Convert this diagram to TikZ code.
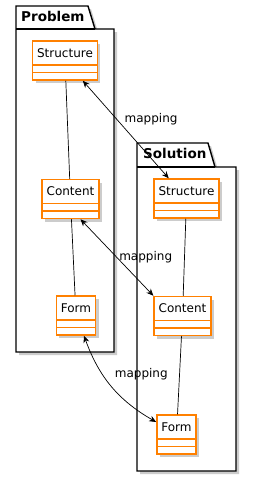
\documentclass[tikz,border=0pt]{standalone}
\usepackage{fontspec}
\setmainfont{DejaVu Sans}
\usetikzlibrary{arrows.meta,shadows}
\definecolor{umlorange}{HTML}{FF8000}
\definecolor{shade}{HTML}{808080}

% class name with room for two empty compartments below it
\newcommand{\clsname}[1]{\rule[-23pt]{0pt}{39pt}#1}

\tikzset{
  cls/.style={rectangle, draw=umlorange, line width=1.5pt, fill=white,
    inner xsep=4.5pt, inner ysep=0pt, font=\fontsize{12}{14}\selectfont,
    drop shadow={shadow xshift=3pt, shadow yshift=-3pt, opacity=0.4, fill=shade},
    path picture={
      \draw[umlorange, line width=1.5pt]
        ([yshift=-24pt]path picture bounding box.north west) -- ([yshift=-24pt]path picture bounding box.north east)
        ([yshift=-31.5pt]path picture bounding box.north west) -- ([yshift=-31.5pt]path picture bounding box.north east);
    }},
  pkg/.style={draw=black, line width=1.4pt, fill=white,
    drop shadow={shadow xshift=3pt, shadow yshift=-3pt, opacity=0.4, fill=shade}},
  pkgtitle/.style={font=\fontsize{13.5}{15}\selectfont\bfseries, inner sep=0pt, anchor=west},
  link/.style={draw=black, line width=0.7pt},
  map/.style={link, {Stealth[length=7pt,width=6pt]}-{Stealth[length=7pt,width=6pt]}},
  lbl/.style={font=\fontsize{12}{14}\selectfont, inner sep=0pt, anchor=west}
}

\begin{document}
\begin{tikzpicture}[x=1pt,y=-1pt]
  \useasboundingbox[fill=white] (0,0) rectangle (252,477);

  % Problem package
  \path[pkg] (16,352) -- (16,6) -- (88,6) -- (95,29) -- (114,29) -- (114,352) -- cycle;
  \draw[line width=1.4pt] (16,29) -- (95,29);
  \node[pkgtitle] (ptitle) at (21,16.5) {Problem};

  % Solution package
  \path[pkg] (137,471) -- (137,143) -- (208,143) -- (215,167) -- (236,167) -- (236,471) -- cycle;
  \draw[line width=1.4pt] (137,167) -- (215,167);
  \node[pkgtitle] (stitle) at (143,153) {Solution};

  % classes
  \node[cls] (ps) at (65,60.5) {\clsname{Structure}};
  \node[cls] (pc) at (70.5,199) {\clsname{Content}};
  \node[cls] (pf) at (76,315.5) {\clsname{Form}};

  \node[cls] (ss) at (186.5,198.5) {\clsname{Structure}};
  \node[cls] (sc) at (182.5,316) {\clsname{Content}};
  \node[cls] (sf) at (176.5,434.5) {\clsname{Form}};

  % inner links
  \draw[link] (ps) -- (pc);
  \draw[link] (pc) -- (pf);
  \draw[link] (ss) -- (sc);
  \draw[link] (sc) -- (sf);

  % mappings
  \draw[map] (ps) -- node[lbl, pos=0.39, xshift=8pt] {mapping} (ss);
  \draw[map] ([xshift=10pt]pc.south) -- node[lbl, pos=0.5, xshift=2pt] {mapping} (sc.north west);
  \draw[map] ([xshift=8pt]pf.south) to[out=-70,in=150] node[lbl, pos=0.36, xshift=12pt] {mapping} ([yshift=12.5pt]sf.west);
\end{tikzpicture}
\end{document}
